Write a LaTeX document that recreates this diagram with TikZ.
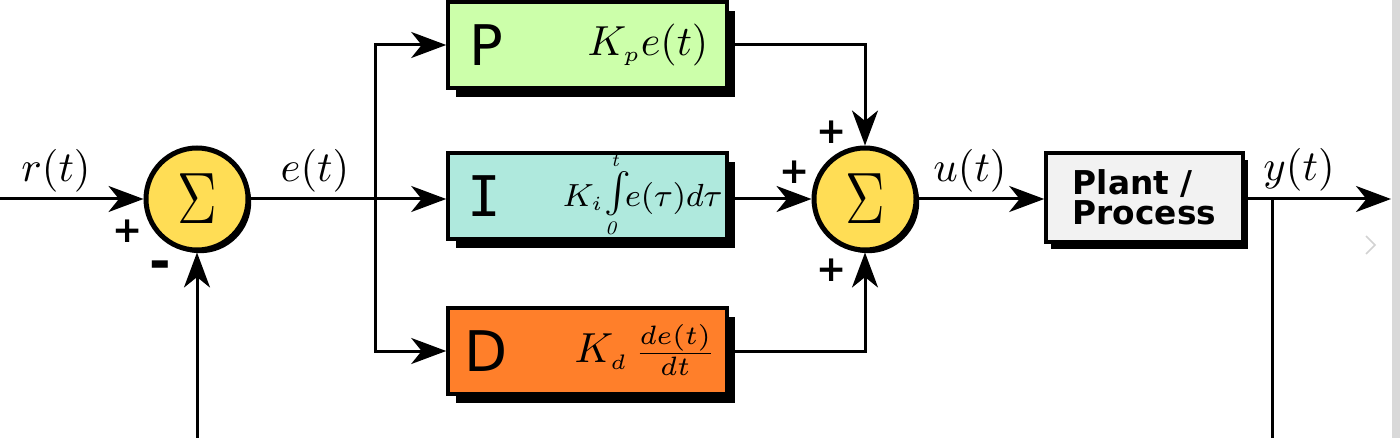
\RequirePackage{fix-cm}
\documentclass[tikz,border=0pt]{standalone}
\usepackage{graphicx}
\usepackage{fontspec}
\newfontfamily\dvs{DejaVu Sans}
\newfontfamily\dvsm{DejaVu Sans Mono}
\usetikzlibrary{arrows.meta,shadows,calc}
\definecolor{pgreen}{HTML}{CCFFAA}
\definecolor{iteal}{HTML}{AFE9DD}
\definecolor{dorange}{HTML}{FF7F2A}
\definecolor{sumyellow}{HTML}{FFDD55}
\definecolor{plantgray}{HTML}{F2F2F2}
\newcommand{\limtxt}[1]{{\fontsize{4.8}{5}\selectfont\itshape #1}}
\begin{document}
\begin{tikzpicture}[x=0.25pt,y=-0.25pt,
  wire/.style={line width=0.75pt},
  arr/.style={wire,-{Stealth[length=8.75pt,width=6.5pt,inset=2.6pt]}},
  blkbase/.style={draw,line width=0.9pt,inner sep=0pt},
  blk/.style={blkbase,minimum width=69.75pt,minimum height=21.5pt,
    general shadow={fill=black,shadow xshift=2.1pt,shadow yshift=-2.3pt}},
  plantbox/.style={blkbase,minimum width=49.25pt,minimum height=22.25pt,
    general shadow={fill=black,shadow xshift=1.3pt,shadow yshift=-1.8pt}},
  sumnode/.style={circle,draw,line width=1.25pt,fill=sumyellow,minimum size=25.5pt,inner sep=0pt,
    general shadow={fill=black,shadow xshift=0.8pt,shadow yshift=-0.8pt},
    font=\fontsize{14}{16}\selectfont},
  lbl/.style={inner sep=0pt,font=\fontsize{10.7}{12}\selectfont},
  fml/.style={inner sep=0pt,font=\fontsize{10.5}{12}\selectfont},
  sgn/.style={inner sep=0pt,font=\dvs\bfseries\fontsize{9}{10}\selectfont},
  letter/.style={inner sep=0pt,font=\dvs\fontsize{14}{16}\selectfont}]
\fill[white] (0,0) rectangle (1400,438);
\useasboundingbox (0,0) rectangle (1400,438);
\fill[gray!30] (1392,0) rectangle (1400,438);
\draw[gray!35,line width=0.4pt] (1366,236) -- (1375,245) -- (1366,254);

% summing junctions
\node[sumnode] (S1) at (197,199) {\scalebox{1}[1.3]{$\Sigma$}};
\node[sumnode] (S2) at (865,199) {\scalebox{1}[1.3]{$\Sigma$}};

% PID blocks
\node[blk,fill=pgreen] (P) at (587.5,45) {};
\node[blk,fill=iteal] (I) at (587.5,196) {};
\node[blk,fill=dorange] (D) at (587.5,351) {};
\node[letter] (Pl) at (486,45) {P};
\node[letter,font=\dvsm\fontsize{14}{16}\selectfont] (Il) at (484,196) {I};
\node[letter] (Dl) at (486,351) {D};
\node[fml] (Pf) at (648,45) {$K_{\scriptscriptstyle p}e(t)$};
\node[fml,font=\fontsize{8}{10}\selectfont,anchor=base west] (If) at (562,207)
  {$K_{\scriptscriptstyle i}\hbox{\fontsize{13.5}{15}\selectfont$\int$}\llap{\raisebox{10pt}{\limtxt{t}}\hspace{3pt}}\llap{\raisebox{-7pt}{\limtxt{0}}\hspace{3.5pt}}\! e(\tau)d\tau$};
\node[fml] (Df) at (645,350)
  {{\fontsize{10.5}{12}\selectfont$K_{\scriptscriptstyle d}$}\,{\fontsize{9.5}{11}\selectfont$\frac{de(t)}{dt}$}};

% plant
\node[plantbox,fill=plantgray,align=left,font=\dvs\bfseries\fontsize{8.2}{7.6}\selectfont] (G) at (1144.5,197.5) {Plant /\\Process};

% labels
\node[lbl] (rl) at (56,171) {$r(t)$};
\node[lbl] (el) at (315,171) {$e(t)$};
\node[lbl] (ul) at (970,171) {$u(t)$};
\node[lbl] (yl) at (1299,170) {$y(t)$};

% signs
\node[sgn] (s1p) at (128,231) {+};
\node[sgn,font=\dvs\bfseries\fontsize{13}{14}\selectfont] (s1m) at (160,270) {-};
\node[sgn] (s2t) at (832,132) {+};
\node[sgn] (s2l) at (795,172) {+};
\node[sgn] (s2b) at (832,270) {+};

% connection points
\coordinate (rin) at (0,199);
\coordinate (split) at (375,199);
\coordinate (fb) at (197,438);
\coordinate (yout) at (1391,199);
\coordinate (ytap) at (1272,199);
\coordinate (ybot) at (1272,438);

% connectors
\draw[arr] (rin) -- (S1.west);
\draw[arr] (fb) -- (S1.south);
\draw[arr] (S1.east) -- (S1.east -| I.west);
\draw[arr] (split) |- (P.west);
\draw[arr] (split) |- (D.west);
\draw[arr] (P.east) -| (S2.north);
\draw[arr] (I.east |- S2.west) -- (S2.west);
\draw[arr] (D.east) -| (S2.south);
\draw[arr] (S2.east) -- (S2.east -| G.west);
\draw[arr] (G.east |- yout) -- (yout);
\draw[wire] (ytap) -- (ybot);
\end{tikzpicture}
\end{document}
